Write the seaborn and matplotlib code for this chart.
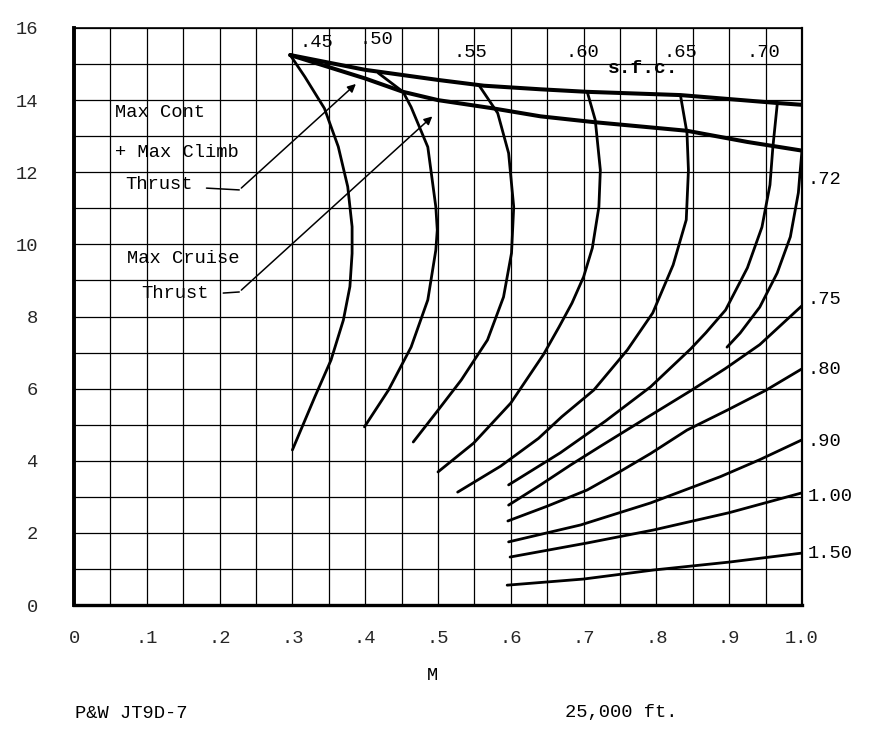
import numpy as np
import pandas as pd
import matplotlib
matplotlib.use("Agg")
import matplotlib.pyplot as plt
import seaborn as sns

# thrust limit lines (M, thrust 1000 lb)
climb_m = [0.297, 0.40, 0.50, 0.563, 0.641, 0.705, 0.833, 0.966, 1.0]
climb_f = [15.25, 14.84, 14.56, 14.40, 14.30, 14.23, 14.14, 13.92, 13.87]
cruise_m = [0.297, 0.40, 0.452, 0.50, 0.573, 0.641, 0.714, 0.842, 0.925, 1.0]
cruise_f = [15.25, 14.60, 14.23, 14.00, 13.78, 13.55, 13.39, 13.15, 12.84, 12.60]

# constant s.f.c. curves
sfc_45_m = [0.297, 0.317, 0.344, 0.363, 0.376, 0.382, 0.382, 0.379, 0.370, 0.353, 0.331, 0.300]
sfc_45_f = [15.25, 14.65, 13.77, 12.71, 11.60, 10.49, 9.75, 8.83, 7.90, 6.79, 5.78, 4.30]
sfc_50_m = [0.418, 0.452, 0.463, 0.486, 0.497, 0.499, 0.497, 0.486, 0.463, 0.432, 0.399]
sfc_50_f = [14.75, 14.23, 13.81, 12.70, 11.04, 10.40, 9.84, 8.46, 7.15, 5.96, 4.94]
sfc_55_m = [0.556, 0.582, 0.597, 0.604, 0.601, 0.590, 0.568, 0.532, 0.500, 0.466]
sfc_55_f = [14.42, 13.64, 12.53, 11.04, 9.76, 8.54, 7.35, 6.24, 5.40, 4.52]
sfc_60_m = [0.705, 0.716, 0.723, 0.721, 0.712, 0.700, 0.684, 0.666, 0.645, 0.600, 0.549, 0.500]
sfc_60_f = [14.23, 13.45, 12.06, 11.04, 9.90, 9.10, 8.37, 7.70, 6.95, 5.60, 4.49, 3.69]
sfc_65_m = [0.833, 0.842, 0.844, 0.841, 0.823, 0.795, 0.760, 0.714, 0.670, 0.638, 0.586, 0.527]
sfc_65_f = [14.14, 13.09, 12.06, 10.68, 9.43, 8.10, 7.07, 5.96, 5.22, 4.62, 3.85, 3.13]
sfc_70_m = [0.966, 0.960, 0.956, 0.945, 0.925, 0.895, 0.868, 0.847, 0.792, 0.730, 0.668, 0.597]
sfc_70_f = [13.89, 12.70, 11.65, 10.48, 9.35, 8.18, 7.55, 7.10, 6.05, 5.10, 4.22, 3.33]
sfc_72_m = [1.0, 0.997, 0.995, 0.984, 0.966, 0.942, 0.915, 0.897]
sfc_72_f = [12.60, 11.92, 11.43, 10.21, 9.21, 8.26, 7.54, 7.15]
sfc_75_m = [1.0, 0.942, 0.895, 0.847, 0.792, 0.723, 0.682, 0.640, 0.597]
sfc_75_f = [8.30, 7.22, 6.56, 5.94, 5.26, 4.40, 3.88, 3.32, 2.77]
sfc_80_m = [1.0, 0.950, 0.897, 0.842, 0.792, 0.750, 0.705, 0.650, 0.596]
sfc_80_f = [6.55, 5.95, 5.40, 4.85, 4.20, 3.70, 3.19, 2.74, 2.33]
sfc_90_m = [1.0, 0.942, 0.888, 0.792, 0.751, 0.696, 0.597]
sfc_90_f = [4.58, 4.03, 3.56, 2.83, 2.57, 2.22, 1.75]
sfc_100_m = [1.0, 0.900, 0.796, 0.705, 0.599]
sfc_100_f = [3.11, 2.56, 2.08, 1.72, 1.33]
sfc_150_m = [1.0, 0.900, 0.796, 0.700, 0.595]
sfc_150_f = [1.44, 1.19, 0.97, 0.72, 0.55]

top_labels = ['.45', '.50', '.55', '.60', '.65', '.70']
top_label_m = [0.333, 0.415, 0.545, 0.699, 0.833, 0.947]
top_label_f = [15.61, 15.67, 15.31, 15.31, 15.33, 15.31]
right_labels = ['.72', '.75', '.80', '.90', '1.00', '1.50']
right_label_f = [11.79, 8.46, 6.52, 4.52, 3.0, 1.44]

x_ticks = [0, 0.1, 0.2, 0.3, 0.4, 0.5, 0.6, 0.7, 0.8, 0.9, 1.0]
x_tick_labels = ['0', '.1', '.2', '.3', '.4', '.5', '.6', '.7', '.8', '.9', '1.0']
y_ticks = [0, 2, 4, 6, 8, 10, 12, 14, 16]

curves = {
    '.45': (sfc_45_m, sfc_45_f), '.50': (sfc_50_m, sfc_50_f),
    '.55': (sfc_55_m, sfc_55_f), '.60': (sfc_60_m, sfc_60_f),
    '.65': (sfc_65_m, sfc_65_f), '.70': (sfc_70_m, sfc_70_f),
    '.72': (sfc_72_m, sfc_72_f), '.75': (sfc_75_m, sfc_75_f),
    '.80': (sfc_80_m, sfc_80_f), '.90': (sfc_90_m, sfc_90_f),
    '1.00': (sfc_100_m, sfc_100_f), '1.50': (sfc_150_m, sfc_150_f),
}
rows = []
for name, (ms, fs) in curves.items():
    for m, f in zip(ms, fs):
        rows.append({'sfc': name, 'M': m, 'F': f})
df = pd.DataFrame(rows)

limits = pd.concat([
    pd.DataFrame({'line': 'climb', 'M': climb_m, 'F': climb_f}),
    pd.DataFrame({'line': 'cruise', 'M': cruise_m, 'F': cruise_f}),
])

sns.set_style('white')
plt.rcParams['font.family'] = ['Liberation Mono', 'DejaVu Sans Mono']

fig = plt.figure(figsize=(8.77, 7.38), dpi=100)
ax = fig.add_axes([74 / 877, 1 - 605 / 738, 728 / 877, 577 / 738])

sns.lineplot(data=df, x='M', y='F', units='sfc', estimator=None, sort=False,
             color='black', lw=2.0, legend=False, ax=ax)
sns.lineplot(data=limits, x='M', y='F', units='line', estimator=None, sort=False,
             color='black', lw=2.9, legend=False, ax=ax)

ax.set_xlim(0, 1.0)
ax.set_ylim(0, 16)
ax.set_xticks(x_ticks)
ax.set_xticklabels(x_tick_labels)
ax.set_xticks(np.arange(0, 1.0001, 0.05), minor=True)
ax.set_yticks(y_ticks)
ax.set_yticklabels([str(v) for v in y_ticks])
ax.set_yticks(np.arange(0, 16.001, 1), minor=True)
ax.grid(which='both', color='black', lw=0.9)
ax.set_axisbelow(True)
ax.tick_params(axis='x', which='major', length=4, width=1.5, pad=14, labelsize=13.5, color='black')
ax.tick_params(axis='x', which='minor', length=0)
ax.tick_params(axis='y', which='both', length=0, pad=26, labelsize=13.5)
ax.set_xlabel('')
ax.set_ylabel('')
for side, w in [('left', 2.8), ('bottom', 2.4), ('top', 1.2), ('right', 1.6)]:
    ax.spines[side].set_visible(True)
    ax.spines[side].set_color('black')
    ax.spines[side].set_linewidth(w)

txt = dict(fontsize=13.5, color='black')
for lab, m, f in zip(top_labels, top_label_m, top_label_f):
    ax.text(m, f, lab, ha='center', va='center', **txt)
ax.text(0.782, 14.89, 's.f.c.', ha='center', va='center', fontsize=14,
        fontweight='bold', color='black')
for lab, f in zip(right_labels, right_label_f):
    ax.text(1.008, f, lab, ha='left', va='center', clip_on=False, **txt)

ax.text(0.056, 13.67, 'Max Cont', ha='left', va='center', **txt)
ax.text(0.056, 12.56, '+ Max Climb', ha='left', va='center', **txt)
ax.text(0.070, 11.67, 'Thrust', ha='left', va='center', **txt)
ax.text(0.073, 9.62, 'Max Cruise', ha='left', va='center', **txt)
ax.text(0.093, 8.65, 'Thrust', ha='left', va='center', **txt)

# leader lines to the thrust curves
ax.plot([0.182, 0.227], [11.56, 11.51], color='black', lw=1.1)
ax.annotate('', xy=(0.390, 14.50), xytext=(0.227, 11.51),
            arrowprops=dict(arrowstyle='-|>', color='black', lw=1.1, mutation_scale=12))
ax.plot([0.205, 0.227], [8.65, 8.68], color='black', lw=1.1)
ax.annotate('', xy=(0.495, 13.60), xytext=(0.227, 8.68),
            arrowprops=dict(arrowstyle='-|>', color='black', lw=1.1, mutation_scale=12))

fig.text(433 / 877, 1 - 675 / 738, 'M', ha='center', va='center', **txt)
fig.text(75 / 877, 1 - 713 / 738, 'P&W JT9D-7', ha='left', va='center', **txt)
fig.text(565 / 877, 1 - 713 / 738, '25,000 ft.', ha='left', va='center', **txt)

fig.savefig('out.png', dpi=100, facecolor='white')
